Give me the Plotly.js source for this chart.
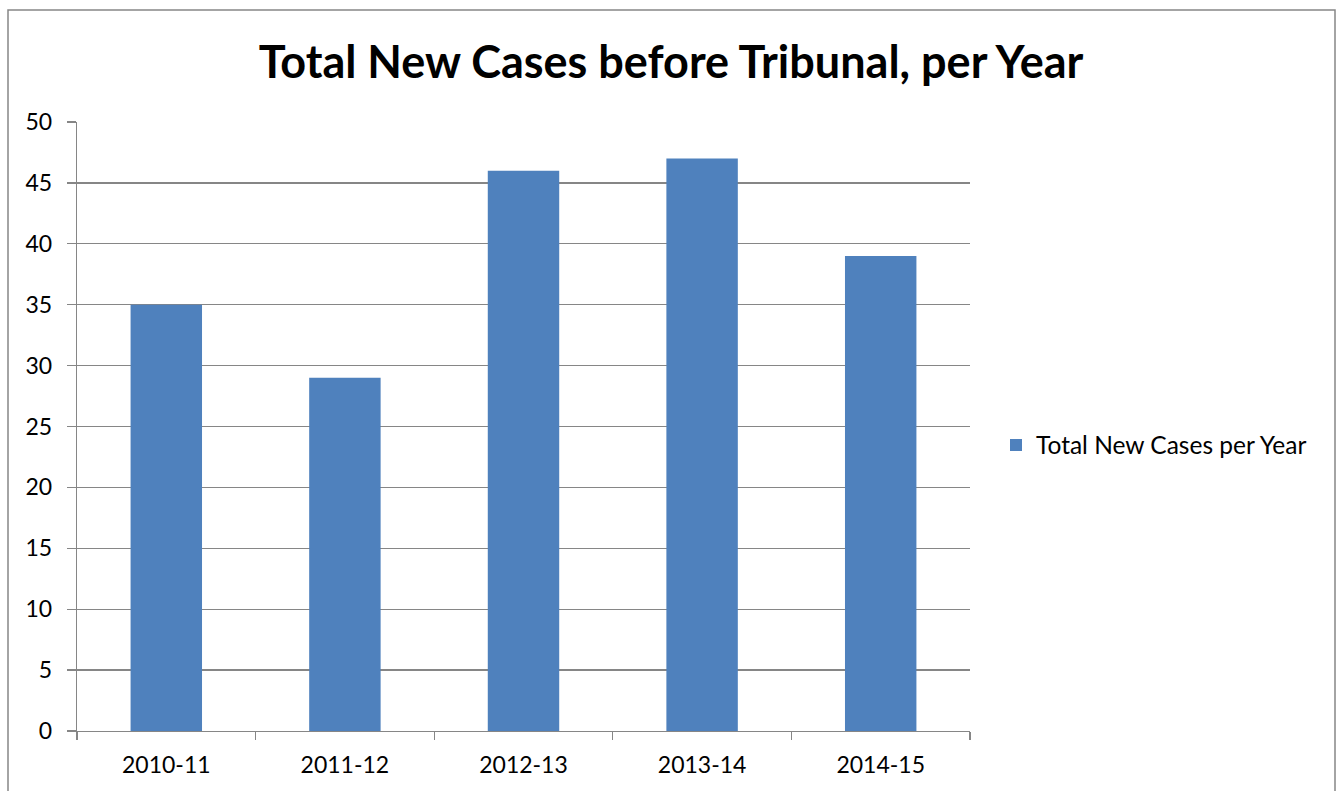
<!DOCTYPE html>
<html>
<head>
<meta charset="utf-8">
<script src="https://cdn.plot.ly/plotly-3.0.1.min.js"></script>
<style>html,body{margin:0;padding:0;background:#fff;overflow:hidden}</style>
</head>
<body>
<div id="chart" style="width:1336px;height:791px"></div>
<script>
const categories = ["2010-11", "2011-12", "2012-13", "2013-14", "2014-15"];
const newCases = [35, 29, 46, 47, 39];
const seriesName = "Total New Cases per Year";
const chartTitle = "Total New Cases before Tribunal, per Year";
const yTicks = [0, 5, 10, 15, 20, 25, 30, 35, 40, 45, 50];

const gridColor = "#868686";
const fontFam = "Lato, 'Open Sans', sans-serif";

const trace = {
  type: "bar",
  x: categories,
  y: newCases,
  name: seriesName,
  marker: {color: "#4F81BD"},
  showlegend: true,
  hoverinfo: "x+y"
};

const layout = {
  width: 1336,
  height: 791,
  margin: {l: 77, r: 366, t: 122, b: 60},
  paper_bgcolor: "#fff",
  plot_bgcolor: "#fff",
  font: {family: fontFam, color: "#000", size: 23},
  title: {
    text: "<b>" + chartTitle + "</b>",
    font: {family: fontFam, size: 45, color: "#000"},
    x: 671 / 1336, xanchor: "center",
    y: 1 - 62 / 791, yanchor: "middle"
  },
  bargap: 0.6,
  showlegend: true,
  legend: {
    x: (996 - 77) / 893, xanchor: "left",
    y: (731 - 445) / 609, yanchor: "middle",
    font: {family: fontFam, size: 24.5, color: "#000"},
    bgcolor: "rgba(0,0,0,0)",
    itemwidth: 30
  },
  xaxis: {
    type: "category",
    showline: true, linecolor: gridColor, linewidth: 1.3,
    ticks: "outside", tickson: "boundaries", ticklen: 8, tickcolor: gridColor, tickwidth: 1.3,
    showgrid: false,
    tickfont: {family: fontFam, size: 23, color: "#000"},
    ticklabelstandoff: 13,
    fixedrange: true
  },
  yaxis: {
    range: [0, 50],
    tickmode: "array", tickvals: yTicks, ticktext: yTicks.map(String),
    showline: true, linecolor: gridColor, linewidth: 1.3,
    ticks: "outside", ticklen: 9, tickcolor: gridColor, tickwidth: 1.3,
    showgrid: true, gridcolor: gridColor, gridwidth: 1.3,
    zeroline: false,
    tickfont: {family: fontFam, size: 23, color: "#000"},
    ticklabelstandoff: 10,
    fixedrange: true
  },
  shapes: [{
    type: "rect", xref: "paper", yref: "paper",
    x0: (8 - 77) / 893, x1: (1335 - 77) / 893,
    y0: (731 - 810) / 609, y1: (731 - 10) / 609,
    line: {color: gridColor, width: 1.5},
    fillcolor: "rgba(0,0,0,0)", layer: "below"
  }]
};

Plotly.newPlot("chart", [trace], layout, {displayModeBar: false, staticPlot: true});
</script>
</body>
</html>
